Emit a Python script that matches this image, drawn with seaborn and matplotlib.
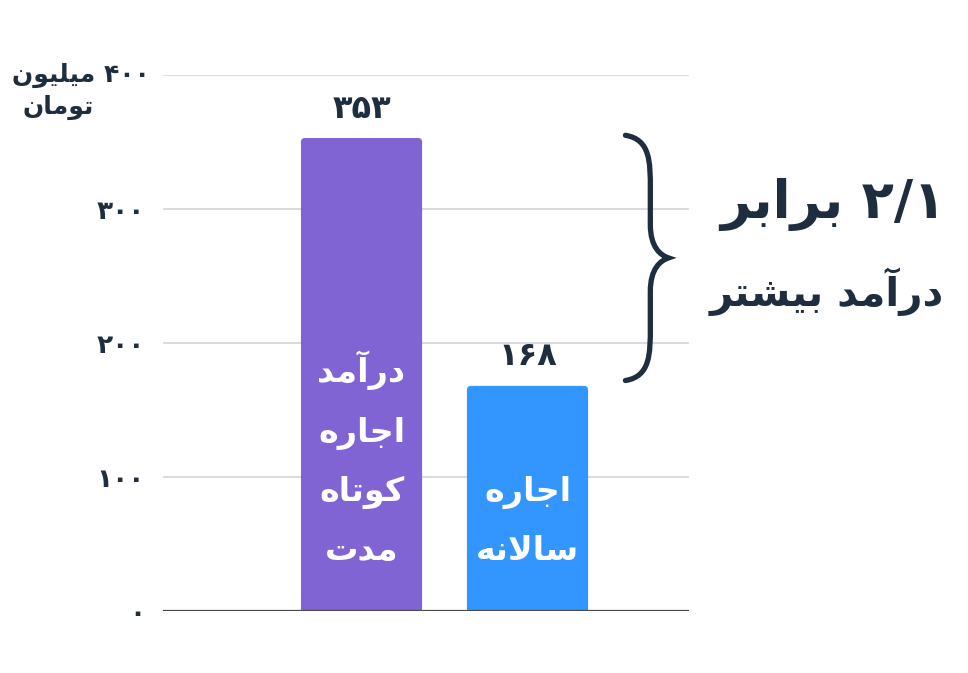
import numpy as np
import matplotlib
matplotlib.use("Agg")
import matplotlib.pyplot as plt
from matplotlib.path import Path
from matplotlib.patches import PathPatch, FancyBboxPatch
import seaborn as sns

# data
categories = ["درآمد اجاره کوتاه مدت", "اجاره سالانه"]
bar_lines = [["درآمد", "اجاره", "کوتاه", "مدت"], ["اجاره", "سالانه"]]
values = [353, 168]
value_labels = ["۳۵۳", "۱۶۸"]
bar_colors = ["#8064D4", "#3396FF"]
yticks = [0, 100, 200, 300]
ytick_labels = ["۰", "۱۰۰", "۲۰۰", "۳۰۰"]
unit_line1 = "۴۰۰ میلیون"
unit_line2 = "تومان"
ratio_text = "۲/۱ برابر"
ratio_sub = "درآمد بیشتر"

DARK = "#1E2E3E"

# simple Persian shaping (matplotlib has no contextual shaping)
FORMS = {
    'ا': ('\uFE8D', '\uFE8E', None, None),
    'آ': ('\uFE81', '\uFE82', None, None),
    'ب': ('\uFE8F', '\uFE90', '\uFE91', '\uFE92'),
    'ت': ('\uFE95', '\uFE96', '\uFE97', '\uFE98'),
    'ج': ('\uFE9D', '\uFE9E', '\uFE9F', '\uFEA0'),
    'د': ('\uFEA9', '\uFEAA', None, None),
    'ر': ('\uFEAD', '\uFEAE', None, None),
    'س': ('\uFEB1', '\uFEB2', '\uFEB3', '\uFEB4'),
    'ش': ('\uFEB5', '\uFEB6', '\uFEB7', '\uFEB8'),
    'ل': ('\uFEDD', '\uFEDE', '\uFEDF', '\uFEE0'),
    'م': ('\uFEE1', '\uFEE2', '\uFEE3', '\uFEE4'),
    'ن': ('\uFEE5', '\uFEE6', '\uFEE7', '\uFEE8'),
    'ه': ('\uFEE9', '\uFEEA', '\uFEEB', '\uFEEC'),
    'و': ('\uFEED', '\uFEEE', None, None),
    'ی': ('\uFBFC', '\uFBFD', '\uFBFE', '\uFBFF'),
    'ک': ('\uFB8E', '\uFB8F', '\uFB90', '\uFB91'),
}


def shape_word(word):
    out = []
    chars = list(word)
    n = len(chars)
    i = 0
    while i < n:
        c = chars[i]
        if c not in FORMS:
            out.append(c)
            i += 1
            continue
        prev = chars[i - 1] if i > 0 else None
        joins_prev = prev in FORMS and FORMS[prev][2] is not None
        # lam-alef ligature
        if c == 'ل' and i + 1 < n and chars[i + 1] in ('ا', 'آ'):
            lig = ('\uFEFB', '\uFEFC') if chars[i + 1] == 'ا' else ('\uFEF5', '\uFEF6')
            out.append(lig[1] if joins_prev else lig[0])
            i += 2
            continue
        nxt = chars[i + 1] if i + 1 < n else None
        iso, fin, ini, med = FORMS[c]
        joins_next = ini is not None and nxt in FORMS
        if joins_prev and joins_next:
            out.append(med)
        elif joins_prev:
            out.append(fin)
        elif joins_next:
            out.append(ini)
        else:
            out.append(iso)
        i += 1
    return ''.join(reversed(out))


def fa(line):
    tokens = []
    for tok in line.split(' '):
        if any(ch in FORMS for ch in tok):
            tokens.append(shape_word(tok))
        else:
            tokens.append(tok)
    return ' '.join(reversed(tokens))


sns.set_style("white")
plt.rcParams['font.family'] = ['DejaVu Sans']

fig = plt.figure(figsize=(9.68, 6.73), dpi=100)
ax = fig.add_axes([163 / 968, 62 / 673, 526 / 968, 536 / 673])

sns.barplot(x=categories, y=values, hue=categories, palette=bar_colors,
            width=0.73, saturation=1, legend=False, ax=ax, zorder=3)

ax.set_xlim(-1.196, 1.973)
ax.set_ylim(0, 400)

# rounded top corners like the original
for bar in list(ax.patches[:len(values)]):
    x, y, w, h = bar.get_x(), bar.get_y(), bar.get_width(), bar.get_height()
    bar.set_visible(False)
    ax.add_patch(FancyBboxPatch((x, y - 5), w, h + 5,
                                boxstyle="round,pad=0,rounding_size=0.025",
                                mutation_aspect=120, facecolor=bar.get_facecolor(),
                                edgecolor="none", zorder=3))

# grid
for y in yticks[1:] + [400]:
    ax.axhline(y, color="#D9D9D9", lw=1.3, zorder=1)
ax.axhline(0, color="#4A4A4A", lw=1.6, zorder=4)

for s in ax.spines.values():
    s.set_visible(False)
ax.set_xticks([])
ax.set_xlabel("")
ax.set_ylabel("")
ax.set_yticks(yticks)
ax.set_yticklabels(ytick_labels, fontsize=19, fontweight="bold", color=DARK)
ax.tick_params(axis="y", length=0, pad=13)

# unit label on top
ax.text(-1.275, 400, fa(unit_line1), ha="right", va="center", fontsize=18,
        fontweight="bold", color=DARK, clip_on=False)
ax.text(-1.83, 376, fa(unit_line2), ha="center", va="center", fontsize=18,
        fontweight="bold", color=DARK, clip_on=False)

# value labels
for i, v in enumerate(values):
    ax.text(i, v + 10, value_labels[i], ha="center", va="bottom", fontsize=23,
            fontweight="bold", color=DARK)

# labels inside bars
for i, lines in enumerate(bar_lines):
    txt = "\n".join(fa(l) for l in lines)
    ax.text(i, 38, txt, ha="center", va="baseline", fontsize=24, fontweight="bold",
            color="white", linespacing=1.97, zorder=5)

# brace between the two bar tops
top, bot = values[0] + 2, values[1] + 4
mid = (top + bot) / 2
x0, x1, x2 = 1.59, 1.74, 1.85
verts = [
    (x0, top),
    (x1, top - 3), (x1, top - 20), (x1, top - 40),
    (x1, mid + 25),
    (x1, mid + 8), (x2 - 0.05, mid + 2), (x2, mid),
    (x2 - 0.05, mid - 2), (x1, mid - 8), (x1, mid - 25),
    (x1, bot + 40),
    (x1, bot + 20), (x1, bot + 3), (x0, bot),
]
codes = [Path.MOVETO, Path.CURVE4, Path.CURVE4, Path.CURVE4, Path.LINETO,
         Path.CURVE4, Path.CURVE4, Path.CURVE4, Path.CURVE4, Path.CURVE4, Path.CURVE4,
         Path.LINETO, Path.CURVE4, Path.CURVE4, Path.CURVE4]
ax.add_patch(PathPatch(Path(verts, codes), facecolor="none", edgecolor=DARK, lw=3.8,
                       capstyle="round", clip_on=False, zorder=5))

# ratio annotation
ax.text(3.52, 303, fa(ratio_text), ha="right", va="center", fontsize=38,
        fontweight="bold", color=DARK, clip_on=False)
ax.text(3.51, 238, fa(ratio_sub), ha="right", va="center", fontsize=29,
        fontweight="bold", color=DARK, clip_on=False)

fig.savefig("out.png", dpi=100)
